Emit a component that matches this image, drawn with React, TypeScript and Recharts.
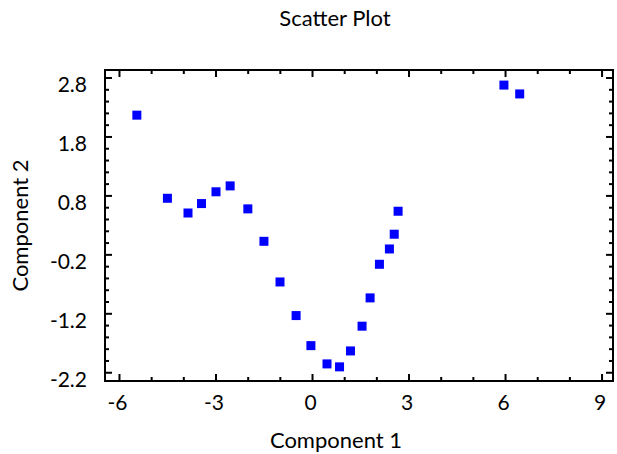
import { ScatterChart, Scatter, XAxis, YAxis } from 'recharts';

// values
const comp1 = [-5.46, -4.51, -3.87, -3.45, -3.0, -2.56, -2.01, -1.51, -1.01, -0.51, -0.05, 0.45, 0.84, 1.18, 1.54, 1.79, 2.08, 2.39, 2.54, 2.66, 5.95, 6.44];
const comp2 = [2.17, 0.76, 0.51, 0.67, 0.87, 0.97, 0.58, 0.03, -0.66, -1.23, -1.74, -2.05, -2.1, -1.83, -1.41, -0.93, -0.36, -0.1, 0.15, 0.54, 2.68, 2.53];

const xMajorTicks = [-6, -3, 0, 3, 6, 9];
const xMinorTicks = [-5, -4, -2, -1, 1, 2, 4, 5, 7, 8];
const yMajorTicks = [-2.2, -1.2, -0.2, 0.8, 1.8, 2.8];
const yMinorTicks = [-2.0, -1.8, -1.6, -1.4, -1.0, -0.8, -0.6, -0.4, 0.0, 0.2, 0.4, 0.6, 1.0, 1.2, 1.4, 1.6, 2.0, 2.2, 2.4, 2.6];

const points = comp1.map((x, i) => ({ x, y: comp2[i] }));
const xTicks = [...xMajorTicks, ...xMinorTicks].sort((a, b) => a - b);
const yTicks = [...yMajorTicks, ...yMinorTicks].sort((a, b) => a - b);
const xDomain = [-6.45, 9.34];
const yDomain = [-2.34, 2.936];

const FONT = 'Lato, sans-serif';
const FS = 21;
const TITLE_FS = 22;

const isMajor = (v: number, majors: number[]) => majors.some((m) => Math.abs(m - v) < 1e-6);

const makeTick = (side: string, majors: number[], withLabel: boolean) => (props: any) => {
  const { x, y, payload } = props;
  const v = payload.value;
  const major = isMajor(v, majors);
  const len = major ? 7 : 4;
  let x2 = x;
  let y2 = y;
  if (side === 'bottom') y2 = y - len;
  if (side === 'top') y2 = y + len;
  if (side === 'left') x2 = x + len;
  if (side === 'right') x2 = x - len;
  let label = null;
  if (withLabel && major) {
    if (side === 'bottom') {
      label = (
        <text x={x - 2} y={y + 29} textAnchor="middle" fontFamily={FONT} fontSize={FS} fill="#000">
          {String(v)}
        </text>
      );
    } else if (side === 'left') {
      label = (
        <text x={x - 18} y={y + 14} textAnchor="end" fontFamily={FONT} fontSize={FS} fill="#000">
          {String(v)}
        </text>
      );
    }
  }
  return (
    <g>
      <line x1={x} y1={y} x2={x2} y2={y2} stroke="#000" strokeWidth={2} />
      {label}
    </g>
  );
};

const Square = (props: any) => {
  const { cx, cy } = props;
  return <rect x={cx - 4.5} y={cy - 4.5} width={9} height={9} fill="#0000ff" />;
};

const axisLine = { stroke: '#000', strokeWidth: 2, strokeLinecap: 'square' as const };

export default function App() {
  return (
    <div style={{ position: 'absolute', left: 0, top: 0 }}>
      <ScatterChart width={617} height={454} margin={{ top: 0, right: 0, bottom: 0, left: 0 }}>
        <XAxis
          dataKey="x"
          type="number"
          domain={xDomain}
          allowDataOverflow
          ticks={xTicks}
          interval={0}
          height={73}
          tickSize={0}
          tickMargin={0}
          tickLine={false}
          axisLine={axisLine}
          tick={makeTick('bottom', xMajorTicks, true)}
          label={{
            content: (p: any) => {
              const vb = p.viewBox;
              return (
                <text x={vb.x + vb.width / 2 - 23} y={vb.y + 67} textAnchor="middle" fontFamily={FONT} fontSize={TITLE_FS} fill="#000">
                  Component 1
                </text>
              );
            },
          }}
        />
        <XAxis
          xAxisId="top"
          orientation="top"
          dataKey="x"
          type="number"
          domain={xDomain}
          allowDataOverflow
          ticks={xTicks}
          interval={0}
          height={70}
          tickSize={0}
          tickMargin={0}
          tickLine={false}
          axisLine={axisLine}
          tick={makeTick('top', xMajorTicks, false)}
          label={{
            content: (p: any) => {
              const vb = p.viewBox;
              return (
                <text x={vb.x + vb.width / 2 - 24} y={vb.y + vb.height - 44} textAnchor="middle" fontFamily={FONT} fontSize={TITLE_FS} fill="#000">
                  Scatter Plot
                </text>
              );
            },
          }}
        />
        <YAxis
          dataKey="y"
          type="number"
          domain={yDomain}
          allowDataOverflow
          ticks={yTicks}
          interval={0}
          width={105}
          tickSize={0}
          tickMargin={0}
          tickLine={false}
          axisLine={axisLine}
          tick={makeTick('left', yMajorTicks, true)}
          label={{
            content: (p: any) => {
              const vb = p.viewBox;
              const cx = vb.x + vb.width - 77;
              const cy = vb.y + vb.height / 2;
              return (
                <text
                  x={cx}
                  y={cy}
                  transform={`rotate(-90, ${cx}, ${cy})`}
                  textAnchor="middle"
                  fontFamily={FONT}
                  fontSize={TITLE_FS}
                  fill="#000"
                >
                  Component 2
                </text>
              );
            },
          }}
        />
        <YAxis
          yAxisId="right"
          orientation="right"
          dataKey="y"
          type="number"
          domain={yDomain}
          allowDataOverflow
          ticks={yTicks}
          interval={0}
          width={4}
          tickSize={0}
          tickMargin={0}
          tickLine={false}
          axisLine={axisLine}
          tick={makeTick('right', yMajorTicks, false)}
        />
        <Scatter data={points} shape={<Square />} isAnimationActive={false} />
      </ScatterChart>
    </div>
  );
}
